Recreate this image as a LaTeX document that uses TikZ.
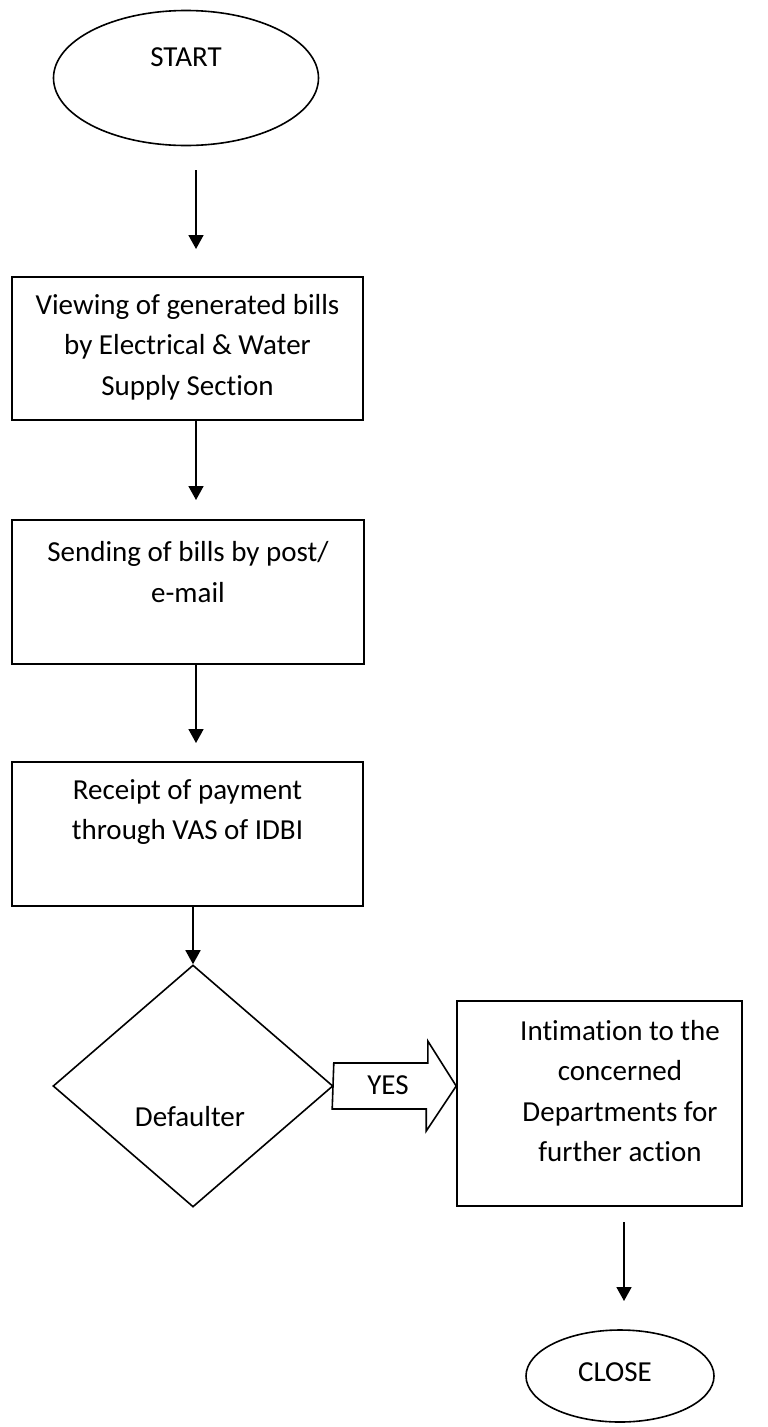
\documentclass[tikz,border=0pt]{standalone}
\usepackage{fontspec}
\setmainfont{Carlito}[Ligatures=NoCommon]
\usetikzlibrary{shapes.geometric,arrows.meta}
\begin{document}
\begin{tikzpicture}[x=1pt,y=1pt,
  shapeline/.style={draw=black,line width=1.6pt},
  boxnode/.style={shapeline,rectangle,inner sep=0pt},
  txt/.style={font=\fontsize{29}{40.5}\selectfont,align=center,inner sep=0pt},
  flow/.style={line width=1.8pt,-{Triangle[width=15pt,length=14pt]}}]
\useasboundingbox (0,0) rectangle (768,-1427);
% start
\node[shapeline,ellipse,minimum width=265pt,minimum height=135pt,inner sep=0pt] (start) at (186,-78) {};
\node[txt] (startt) at (186,-57) {START};
% box 1
\node[boxnode,minimum width=351pt,minimum height=143pt] (b1) at (187.5,-348.5) {};
\node[txt] (b1t) at (187.5,-347) {Viewing of generated bills\\by Electrical \& Water\\Supply Section};
% box 2
\node[boxnode,minimum width=352pt,minimum height=144pt] (b2) at (188,-592) {};
\node[txt] (b2t) at (188,-572) {Sending of bills by post/\\e-mail};
% box 3
\node[boxnode,minimum width=351pt,minimum height=144pt] (b3) at (187.5,-834) {};
\node[txt] (b3t) at (187.5,-812) {Receipt of payment\\through VAS of IDBI};
% diamond
\node[shapeline,diamond,minimum width=280pt,minimum height=242pt,inner sep=0pt,aspect=1.157] (dia) at (193,-1086) {};
\node[txt] (diat) at (190,-1117) {Defaulter};
% box 4
\node[boxnode,minimum width=285pt,minimum height=205pt] (b4) at (599.5,-1103.5) {};
\node[txt] (b4t) at (620,-1091) {Intimation to the\\concerned\\Departments for\\further action};
% close
\node[shapeline,ellipse,minimum width=188pt,minimum height=92pt,inner sep=0pt] (close) at (620,-1376) {};
\node[txt] (closet) at (615,-1372) {CLOSE};
% connectors
\coordinate (a1s) at (196,-170);
\coordinate (a1e) at (196,-249);
\draw[flow] (a1s) -- (a1e);
\coordinate (a2s) at (196,-420);
\coordinate (a2e) at (196,-500);
\draw[flow] (a2s) -- (a2e);
\coordinate (a3s) at (196,-664);
\coordinate (a3e) at (196,-743);
\draw[flow] (a3s) -- (a3e);
\draw[flow] (b3.south -| dia.north) -- (dia.north);
\coordinate (a5s) at (624,-1222);
\coordinate (a5e) at (624,-1301);
\draw[flow] (a5s) -- (a5e);
% block arrow YES
\draw[line width=1.6pt,line join=miter] (dia.east) ++(0,23) coordinate (ya)
  -- ++(94,0) -- ++(0,22) -- (b4.west |- dia.east) coordinate (yt)
  -- ++(-30,-45) -- ++(0,22) -- ++(-94,0) -- cycle;
\node[txt] (yes) at (388,-1085) {YES};
\end{tikzpicture}
\end{document}
